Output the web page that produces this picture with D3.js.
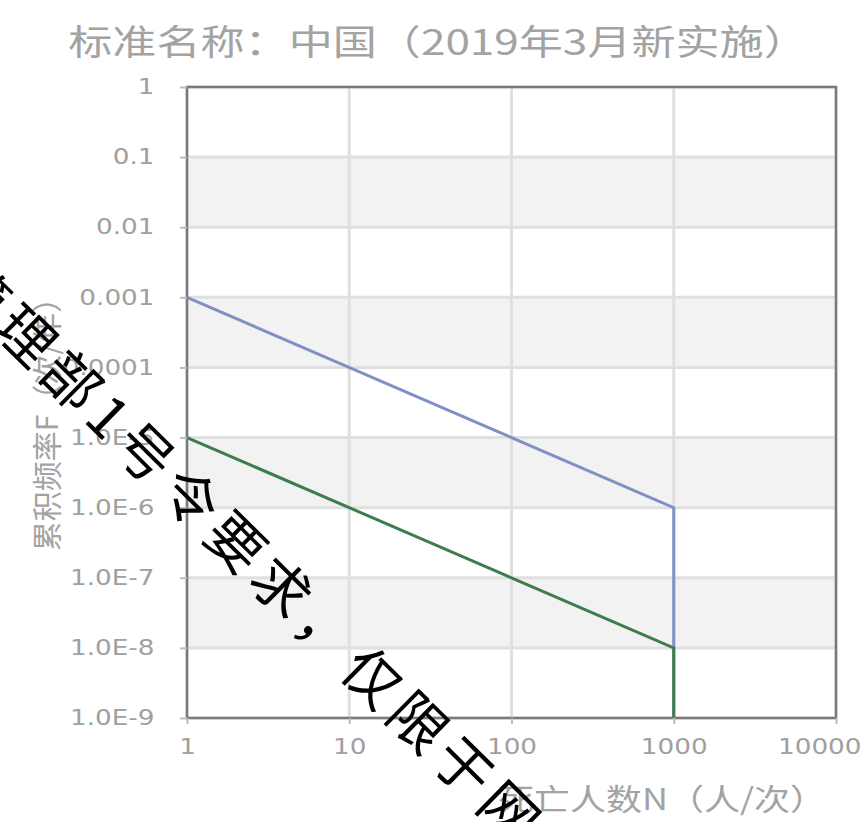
<!DOCTYPE html>
<html>
<head>
<meta charset="utf-8">
<script src="https://cdn.jsdelivr.net/npm/d3@7"></script>
<style>
  html, body { margin: 0; padding: 0; background: #fff; }
  svg { display: block; }
</style>
</head>
<body>
<svg id="chart" width="867" height="822"></svg>
<script>
// F-N societal risk criteria (log-log)
const titleText = "标准名称：中国（2019年3月新实施）";
const xLabelText = "死亡人数N（人/次）";
const yLabelText = "累积频率F（次/年）";
const watermarkText = "管理部1号令要求，仅限于网";

const xTickValues = [1, 10, 100, 1000, 10000];
const xTickLabels = ["1", "10", "100", "1000", "10000"];
const yTickValues = [1, 0.1, 0.01, 0.001, 0.0001, 1e-5, 1e-6, 1e-7, 1e-8, 1e-9];
const yTickLabels = ["1", "0.1", "0.01", "0.001", "0.0001", "1.0E-5", "1.0E-6", "1.0E-7", "1.0E-8", "1.0E-9"];

// boundary lines: N values and frequencies
const upperN = [1, 1000, 1000];
const upperF = [1e-3, 1e-6, 1e-9];
const lowerN = [1, 1000, 1000];
const lowerF = [1e-5, 1e-8, 1e-9];

const svg = d3.select("#chart");
const plotL = 187, plotR = 836, plotT = 87, plotB = 718;

const x = d3.scaleLog().domain([1, 10000]).range([plotL, plotR]);
const y = d3.scaleLog().domain([1e-9, 1]).range([plotB, plotT]);

// alternating decade bands
const bands = yTickValues.slice(0, -1).map((v, i) => ({ hi: v, lo: yTickValues[i + 1], i }));
svg.append("g").selectAll("rect")
  .data(bands.filter(d => d.i % 2 === 1))
  .join("rect")
  .attr("x", plotL).attr("width", plotR - plotL)
  .attr("y", d => y(d.hi)).attr("height", d => y(d.lo) - y(d.hi))
  .attr("fill", "#f2f2f2");

// grid
svg.append("g").selectAll("line")
  .data(yTickValues).join("line")
  .attr("x1", plotL).attr("x2", plotR)
  .attr("y1", d => y(d)).attr("y2", d => y(d))
  .attr("stroke", "#e0e0e0").attr("stroke-width", 3);
svg.append("g").selectAll("line")
  .data(xTickValues).join("line")
  .attr("x1", d => x(d)).attr("x2", d => x(d))
  .attr("y1", plotT).attr("y2", plotB)
  .attr("stroke", "#e0e0e0").attr("stroke-width", 3);

// series
const line = d3.line().x(d => x(d[0])).y(d => y(d[1]));
svg.append("path")
  .datum(upperN.map((n, i) => [n, upperF[i]]))
  .attr("d", line).attr("fill", "none")
  .attr("stroke", "#7f90c4").attr("stroke-width", 3);
svg.append("path")
  .datum(lowerN.map((n, i) => [n, lowerF[i]]))
  .attr("d", line).attr("fill", "none")
  .attr("stroke", "#3d7d4c").attr("stroke-width", 3);

// frame
svg.append("rect")
  .attr("x", plotL).attr("y", plotT)
  .attr("width", plotR - plotL).attr("height", plotB - plotT)
  .attr("fill", "none").attr("stroke", "#7a7a7a").attr("stroke-width", 2.5);

// axes
const tickFont = "DejaVu Sans, sans-serif";
const yAxis = svg.append("g")
  .attr("transform", `translate(${plotL},0)`)
  .call(d3.axisLeft(y).tickValues(yTickValues)
    .tickFormat((d, i) => yTickLabels[i]).tickSize(7).tickPadding(19));
yAxis.select(".domain").remove();
yAxis.selectAll(".tick line").attr("stroke", "#bbb").attr("stroke-width", 2);
yAxis.selectAll(".tick text")
  .attr("fill", "#a0a0a0").style("font-family", tickFont).style("font-size", "21px")
  .attr("transform", "scale(1.25,1)");

const xAxis = svg.append("g")
  .attr("transform", `translate(0,${plotB})`)
  .call(d3.axisBottom(x).tickValues(xTickValues)
    .tickFormat((d, i) => xTickLabels[i]).tickSize(6).tickPadding(15));
xAxis.select(".domain").remove();
xAxis.selectAll(".tick line").attr("stroke", "#bbb").attr("stroke-width", 2);
xAxis.selectAll(".tick text")
  .attr("fill", "#a0a0a0").style("font-family", tickFont).style("font-size", "21px")
  .attr("transform", "scale(1.25,1)");
// keep the last label inside the canvas
xAxis.selectAll(".tick text").filter((d, i) => i === xTickValues.length - 1)
  .attr("text-anchor", "end").attr("x", 20);

const cjk = "'Noto Sans CJK SC', sans-serif";

// title
svg.append("text")
  .attr("transform", "translate(438,40) scale(1.26,1)")
  .attr("text-anchor", "middle").attr("dominant-baseline", "central")
  .style("font-family", cjk).style("font-size", "35px")
  .attr("fill", "#a3a3a3")
  .text(titleText);

// axis titles
svg.append("text")
  .attr("transform", "translate(662,797) scale(1.2,1)")
  .attr("text-anchor", "middle").attr("dominant-baseline", "central")
  .style("font-family", cjk).style("font-size", "30px")
  .attr("fill", "#a3a3a3")
  .text(xLabelText);

svg.append("text")
  .attr("transform", "translate(45,417) rotate(-90)")
  .attr("text-anchor", "middle").attr("dominant-baseline", "central")
  .style("font-family", cjk).style("font-size", "30px")
  .attr("fill", "#a3a3a3")
  .text(yLabelText);

// diagonal overlay text
svg.append("text")
  .attr("transform", "translate(250,551) rotate(44.6)")
  .attr("text-anchor", "middle").attr("dominant-baseline", "central")
  .style("font-family", cjk).style("font-size", "57px")
  .style("letter-spacing", "7px")
  .attr("fill", "#000")
  .text(watermarkText);
</script>
</body>
</html>
